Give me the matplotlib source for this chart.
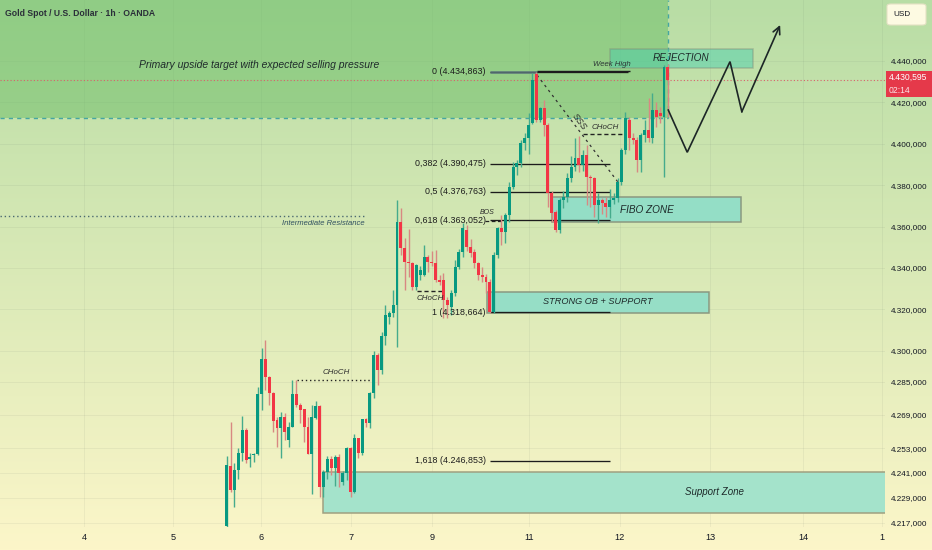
import numpy as np
import matplotlib
matplotlib.use("Agg")
import matplotlib.pyplot as plt
from matplotlib.patches import Rectangle, FancyBboxPatch
from matplotlib.colors import to_rgb

plt.rcParams['font.family'] = ['Liberation Sans', 'DejaVu Sans']

# ---------------- data (1h candles) ----------------
opens = [4215.4, 4244.5, 4232.8, 4242.4, 4250.5, 4261.7, 4247.5, 4249.5, 4250.0, 4279.1,
         4295.9, 4287.5, 4279.5, 4266.6, 4262.5, 4267.8, 4256.9, 4263.3, 4279.1, 4273.8,
         4271.7, 4263.3, 4250.1, 4267.3, 4273.3, 4234.0, 4241.6, 4247.6, 4243.2, 4248.8,
         4236.8, 4240.8, 4252.9, 4232.0, 4257.7, 4250.5, 4266.9, 4265.3, 4279.5, 4297.9,
         4290.7, 4307.1, 4316.5, 4318.1, 4322.1, 4362.4, 4349.5, 4343.1, 4342.3, 4331.0,
         4336.6, 4336.6, 4345.5, 4343.1, 4342.3, 4334.2, 4334.2, 4324.5, 4321.3, 4327.8,
         4340.6, 4347.9, 4358.4, 4350.3, 4347.9, 4342.2, 4336.6, 4335.8, 4333.4, 4318.9,
         4346.3, 4359.2, 4357.6, 4365.6, 4379.3, 4389.0, 4390.6, 4400.2, 4402.6, 4409.9,
         4433.5, 4411.5, 4417.1, 4409.1, 4376.1, 4367.0, 4358.4, 4372.8, 4374.4, 4383.3,
         4389.0, 4393.0, 4389.8, 4394.6, 4384.1, 4383.3, 4370.4, 4372.8, 4371.5, 4369.6,
         4372.8, 4374.0, 4381.7, 4397.0, 4411.5, 4402.6, 4401.8, 4392.2, 4404.2, 4406.6,
         4402.6, 4416.3, 4415.0, 4413.1, 4437.3]
highs = [4249.0, 4265.7, 4246.0, 4253.0, 4268.5, 4262.5, 4250.5, 4250.8, 4282.7, 4301.2,
         4305.2, 4288.0, 4280.0, 4268.0, 4270.6, 4269.8, 4265.8, 4285.9, 4285.9, 4274.6,
         4272.0, 4268.0, 4273.8, 4275.9, 4273.8, 4242.5, 4249.0, 4249.0, 4249.5, 4250.0,
         4242.0, 4253.7, 4253.7, 4260.0, 4258.0, 4267.2, 4267.5, 4280.3, 4300.0, 4299.0,
         4309.0, 4322.1, 4319.0, 4329.4, 4372.9, 4368.8, 4354.3, 4359.0, 4342.8, 4342.0,
         4341.0, 4351.1, 4346.3, 4348.0, 4348.7, 4336.6, 4337.4, 4326.0, 4329.4, 4343.9,
         4349.0, 4361.6, 4361.0, 4354.0, 4349.0, 4343.0, 4340.6, 4337.0, 4334.5, 4347.5,
         4360.0, 4365.6, 4366.4, 4381.7, 4391.0, 4392.0, 4402.0, 4405.0, 4414.7, 4434.0,
         4434.9, 4418.0, 4421.2, 4410.0, 4377.0, 4368.0, 4374.0, 4377.0, 4386.0, 4394.0,
         4402.6, 4404.0, 4397.0, 4399.4, 4385.0, 4384.0, 4376.0, 4374.0, 4374.4, 4378.0,
         4376.0, 4383.5, 4398.0, 4415.5, 4413.0, 4405.0, 4403.4, 4405.0, 4411.5, 4421.9,
         4424.4, 4420.0, 4418.0, 4438.2, 4438.5]
lows = [4215.0, 4232.0, 4224.7, 4238.0, 4247.0, 4245.6, 4243.7, 4246.5, 4249.6, 4271.4,
        4281.0, 4274.0, 4261.0, 4253.7, 4248.0, 4257.0, 4253.7, 4263.0, 4273.0, 4265.0,
        4256.0, 4250.0, 4231.0, 4267.0, 4229.5, 4229.5, 4238.0, 4240.0, 4234.5, 4234.0,
        4235.0, 4237.6, 4229.5, 4231.5, 4248.0, 4249.6, 4263.0, 4262.5, 4277.0, 4283.5,
        4289.0, 4302.8, 4313.0, 4316.5, 4302.0, 4346.3, 4329.4, 4335.8, 4329.4, 4329.4,
        4334.0, 4336.0, 4338.0, 4341.0, 4333.4, 4332.0, 4315.7, 4316.0, 4317.3, 4326.5,
        4339.5, 4345.5, 4348.0, 4345.5, 4340.0, 4334.0, 4333.4, 4328.0, 4318.2, 4318.2,
        4345.0, 4351.0, 4352.0, 4362.0, 4378.0, 4385.0, 4389.0, 4397.0, 4395.0, 4409.5,
        4410.5, 4410.5, 4404.0, 4369.6, 4362.0, 4357.6, 4357.0, 4369.0, 4372.0, 4381.5,
        4387.0, 4386.5, 4387.0, 4370.4, 4369.6, 4364.8, 4361.6, 4366.0, 4364.8, 4364.0,
        4371.0, 4372.0, 4380.0, 4395.0, 4397.0, 4400.0, 4386.5, 4386.5, 4401.0, 4401.0,
        4400.5, 4408.0, 4410.0, 4384.0, 4413.0]
closes = [4244.8, 4232.8, 4242.4, 4250.5, 4261.7, 4247.2, 4248.8, 4250.2, 4279.1, 4295.9,
          4287.5, 4279.5, 4266.3, 4262.5, 4267.8, 4261.0, 4263.0, 4279.1, 4273.8, 4271.4,
          4263.3, 4250.1, 4267.8, 4273.3, 4234.0, 4241.6, 4247.6, 4243.2, 4248.8, 4240.8,
          4240.8, 4252.9, 4232.0, 4257.7, 4250.5, 4266.9, 4265.3, 4279.5, 4297.9, 4290.7,
          4307.1, 4317.3, 4318.1, 4322.1, 4362.4, 4349.5, 4343.1, 4342.3, 4331.0, 4341.5,
          4339.0, 4345.5, 4343.1, 4342.3, 4334.2, 4333.4, 4324.5, 4322.1, 4327.8, 4340.6,
          4347.9, 4359.2, 4350.3, 4347.1, 4342.2, 4336.6, 4335.8, 4333.4, 4318.9, 4346.3,
          4359.2, 4357.6, 4365.6, 4379.3, 4389.0, 4390.6, 4400.2, 4402.6, 4409.1, 4430.8,
          4411.5, 4417.1, 4409.1, 4376.1, 4366.4, 4358.4, 4372.8, 4374.4, 4383.3, 4389.0,
          4393.0, 4389.8, 4394.6, 4384.1, 4383.3, 4370.4, 4372.8, 4371.5, 4369.6, 4372.8,
          4374.0, 4381.7, 4397.0, 4412.3, 4402.6, 4401.8, 4392.2, 4404.2, 4406.6, 4402.6,
          4416.3, 4413.1, 4413.3, 4437.3, 4430.6]

price_ticks = [4440, 4420, 4400, 4380, 4360, 4340, 4320, 4300, 4285, 4269, 4253, 4241, 4229, 4217]
day_labels = ["4", "5", "6", "7", "9", "11", "12", "13", "14", "1"]
day_positions = [-36.9, -13.9, 8.9, 32.1, 53.0, 78.1, 101.6, 124.9, 148.9, 169.3]

fib_ratios = ["0", "0,382", "0,5", "0,618", "1", "1,618"]
fib_prices = [4434.863, 4390.475, 4376.763, 4363.052, 4318.664, 4246.853]
last_price = 4430.595
countdown = "02:14"

target_zone_low = 4412.46
rejection_zone = (4436.8, 4445.6)
fibo_zone = (4362.4, 4374.2)
strong_ob_zone = (4318.4, 4328.55)
support_zone = (4221.5, 4241.4)
intermediate_resistance = 4365.1
choch_levels = [4285.9, 4328.9, 4404.6]
projection_x = [114.1, 119.0, 130.05, 133.1, 143.0]
projection_p = [4416.3, 4395.9, 4439.7, 4415.5, 4457.4]


def fmt(v):
    s = f"{v:,.3f}"
    return s.replace(",", "X").replace(".", ",").replace("X", ".")


# ---------------- figure ----------------
W, H = 932, 550
fig = plt.figure(figsize=(W / 100, H / 100), dpi=100)

bg = fig.add_axes([0, 0, 1, 1], zorder=0)
top_c = np.array(to_rgb('#B8DDA5'))
bot_c = np.array(to_rgb('#FCF6C9'))
t = np.linspace(0, 1, 550)[:, None]
grad = top_c * (1 - t) + bot_c * t
bg.imshow(grad[:, None, :], aspect='auto', extent=[0, 1, 0, 1])
bg.axis('off')

ax = fig.add_axes([0, 23 / 550, 885 / 932, 527 / 550], zorder=1)
ax.patch.set_alpha(0)
X0, X1 = -58.58, 170.1
Y0, Y1 = 4214.88, 4469.47
ax.set_xlim(X0, X1)
ax.set_ylim(Y0, Y1)
for s in ax.spines.values():
    s.set_visible(False)

ax.yaxis.tick_right()
ax.set_yticks(price_ticks, [fmt(v) for v in price_ticks])
ax.tick_params(axis='y', length=0, pad=4.0, labelsize=5.9, labelcolor='#131722')
ax.set_xticks(day_positions, day_labels)
ax.tick_params(axis='x', length=0, pad=4.0, labelsize=6.6, labelcolor='#131722')
ax.grid(True, color='#50605a', alpha=0.07, lw=0.7)
ax.set_axisbelow(True)

# target (upper) zone
ax.add_patch(Rectangle((X0 - 5, target_zone_low), 114.03 - X0 + 5, Y1 - target_zone_low + 10,
                       facecolor='#6DBE68', alpha=0.52, edgecolor='none', zorder=1.5))
ax.hlines(target_zone_low, X0, 114.03, colors='#45A6A2', linestyles=(0, (3, 3)), lw=1.0, zorder=1.6)
ax.vlines(114.03, target_zone_low, Y1, colors='#45A6A2', linestyles=(0, (3, 3)), lw=1.0, zorder=1.6)

# current price line
ax.axhline(last_price, color='#D9606A', lw=0.8, ls=(0, (1, 2)), zorder=1.7)

# zones
ax.add_patch(Rectangle((99.04, rejection_zone[0]), 136.0 - 99.04, rejection_zone[1] - rejection_zone[0],
                       facecolor='#3FCFB0', alpha=0.45, edgecolor='#7E8C78', lw=1.1, zorder=2))
ax.add_patch(Rectangle((84.06, fibo_zone[0]), 132.9 - 84.06, fibo_zone[1] - fibo_zone[0],
                       facecolor='#94DEC6', edgecolor='#8A9880', lw=1.1, zorder=2))
ax.add_patch(Rectangle((67.26, strong_ob_zone[0]), 124.6 - 67.26, strong_ob_zone[1] - strong_ob_zone[0],
                       facecolor='#96DEC6', edgecolor='#8A9880', lw=1.1, zorder=2))
ax.add_patch(Rectangle((24.88, support_zone[0]), X1 - 24.88 + 5, support_zone[1] - support_zone[0],
                       facecolor='#A4E3CB', edgecolor='#A0A080', lw=1.1, zorder=2))

# fib levels
for r, p in zip(fib_ratios, fib_prices):
    x_end = 103.7 if r == "0" else 99.0
    ax.hlines(p, 68.0, x_end, colors='#1C1C1C', lw=0.95, zorder=3)
    ax.text(67.0, p, f"{r} ({fmt(p)})", ha='right', va='center', fontsize=6.4,
            color='#1C1C1C', zorder=6)
ax.hlines(fib_prices[0], 68.0, 80.2, colors='#5E7A80', lw=2.0, alpha=0.8, zorder=3)
ax.hlines(fib_prices[0] + 0.4, 80.2, 104.2, colors='#1C1C1C', lw=1.0, zorder=3)
ax.text(99.6, 4438.5, "Week High", ha='center', va='center', fontsize=5.6, style='italic',
        color='#2A3535', zorder=6)

# intermediate resistance
ax.hlines(intermediate_resistance, X0, 36.0, colors='#4D6A70', linestyles=(0, (1, 2)), lw=1.0, zorder=3)
ax.text(35.7, 4361.3, "Intermediate Resistance", ha='right', va='center', fontsize=5.5,
        style='italic', color='#2F4F5F', zorder=6)

# CHoCH marks
choch_spans = [(18.17, 37.8), (49.1, 55.6), (91.98, 102.9)]
choch_text_pos = [(28.2, 4289.3), (52.5, 4325.5), (97.75, 4408.1)]
choch_styles = [(0, (1, 2)), (0, (3, 2)), (0, (3, 2))]
for lvl, (a, b), (tx, ty), ls in zip(choch_levels, choch_spans, choch_text_pos, choch_styles):
    ax.hlines(lvl, a, b, colors='#222222', linestyles=ls, lw=1.0, zorder=3)
    ax.text(tx, ty, "CHoCH", ha='center', va='center', fontsize=5.7, style='italic',
            color='#2A2A2A', zorder=6)

# BOS
ax.hlines(fib_prices[3] - 0.5, 66.7, 72.0, colors='#222222', linestyles=(0, (3, 2)), lw=0.9, zorder=3)
ax.text(67.4, 4367.0, "BOS", ha='center', va='center', fontsize=5.0, style='italic',
        color='#2A2A2A', zorder=6)

# SSS diagonal
ax.plot([80.2, 101.1], [4433.2, 4381.5], color='#333333', lw=0.9, ls=(0, (2, 3)), zorder=3)
ax.text(91.2, 4410.4, "SSS", ha='center', va='center', fontsize=6.6, style='italic',
        rotation=-53, rotation_mode='anchor', color='#2A2A2A', zorder=6)

# candles
o = np.array(opens); h = np.array(highs); l = np.array(lows); c = np.array(closes)
idx = np.arange(len(o))
up = c >= o
body_col = np.where(up, '#089981', '#F23645')
wick_col = np.where(up, '#45AB8C', '#D88882')
ax.vlines(idx, l, h, colors=wick_col, lw=1.0, zorder=4)
bottom = np.minimum(o, c)
height = np.maximum(np.abs(c - o), 0.5)
ax.bar(idx, height, bottom=bottom, width=0.76, color=body_col, linewidth=0, zorder=5)

# projection path
ax.plot(projection_x[:-1], projection_p[:-1], color='#1C2626', lw=1.2, zorder=6,
        solid_joinstyle='miter')
ax.annotate('', xy=(projection_x[-1], projection_p[-1]), xytext=(projection_x[-2], projection_p[-2]),
            arrowprops=dict(arrowstyle='->', color='#1C2626', lw=1.2, mutation_scale=13,
                            shrinkA=0, shrinkB=0), zorder=6)

# zone labels
ax.text(8.5, 4438.1, "Primary upside target with expected selling pressure", ha='center', va='center',
        fontsize=7.5, style='italic', color='#1F2B2B', zorder=6)
ax.text(117.3, 4441.4, "REJECTION", ha='center', va='center', fontsize=7.2, style='italic',
        color='#1E2A2A', zorder=6)
ax.text(108.6, 4368.0, "FIBO ZONE", ha='center', va='center', fontsize=7.2, style='italic',
        color='#1E2A2A', zorder=6)
ax.text(95.96, 4323.6, "STRONG OB + SUPPORT", ha='center', va='center', fontsize=6.6, style='italic',
        color='#1E2A2A', zorder=6)
ax.text(125.97, 4231.9, "Support Zone", ha='center', va='center', fontsize=7.0, style='italic',
        color='#1E2A2A', zorder=6)

# ---------------- overlays in figure pixels ----------------
def fx(px):
    return px / W


def fy(py):
    return 1 - py / H


fig.text(fx(5), fy(14), "Gold Spot / U.S. Dollar · 1h · OANDA", fontsize=6.2, fontweight='bold',
         color='#2A2E39', va='center', ha='left')

fig.patches.append(FancyBboxPatch((fx(887), fy(25)), fx(39), 21 / H,
                                  boxstyle='round,pad=0,rounding_size=0.004',
                                  transform=fig.transFigure, facecolor='#FDFAE2',
                                  edgecolor='#E4E1C4', lw=0.8, zorder=5))
fig.text(fx(893), fy(14.5), "USD", fontsize=5.9, color='#131722', va='center', ha='left', zorder=6)

fig.patches.append(Rectangle((fx(886), fy(97)), fx(46), 26 / H, transform=fig.transFigure,
                             facecolor='#E5394A', edgecolor='none', zorder=5))
fig.text(fx(888.5), fy(77.5), fmt(last_price), fontsize=6.2, color='white', va='center', ha='left', zorder=6)
fig.text(fx(888.5), fy(90.5), countdown, fontsize=6.2, color='#FBE3E5', va='center', ha='left', zorder=6)

fig.savefig("out.png", dpi=100)
